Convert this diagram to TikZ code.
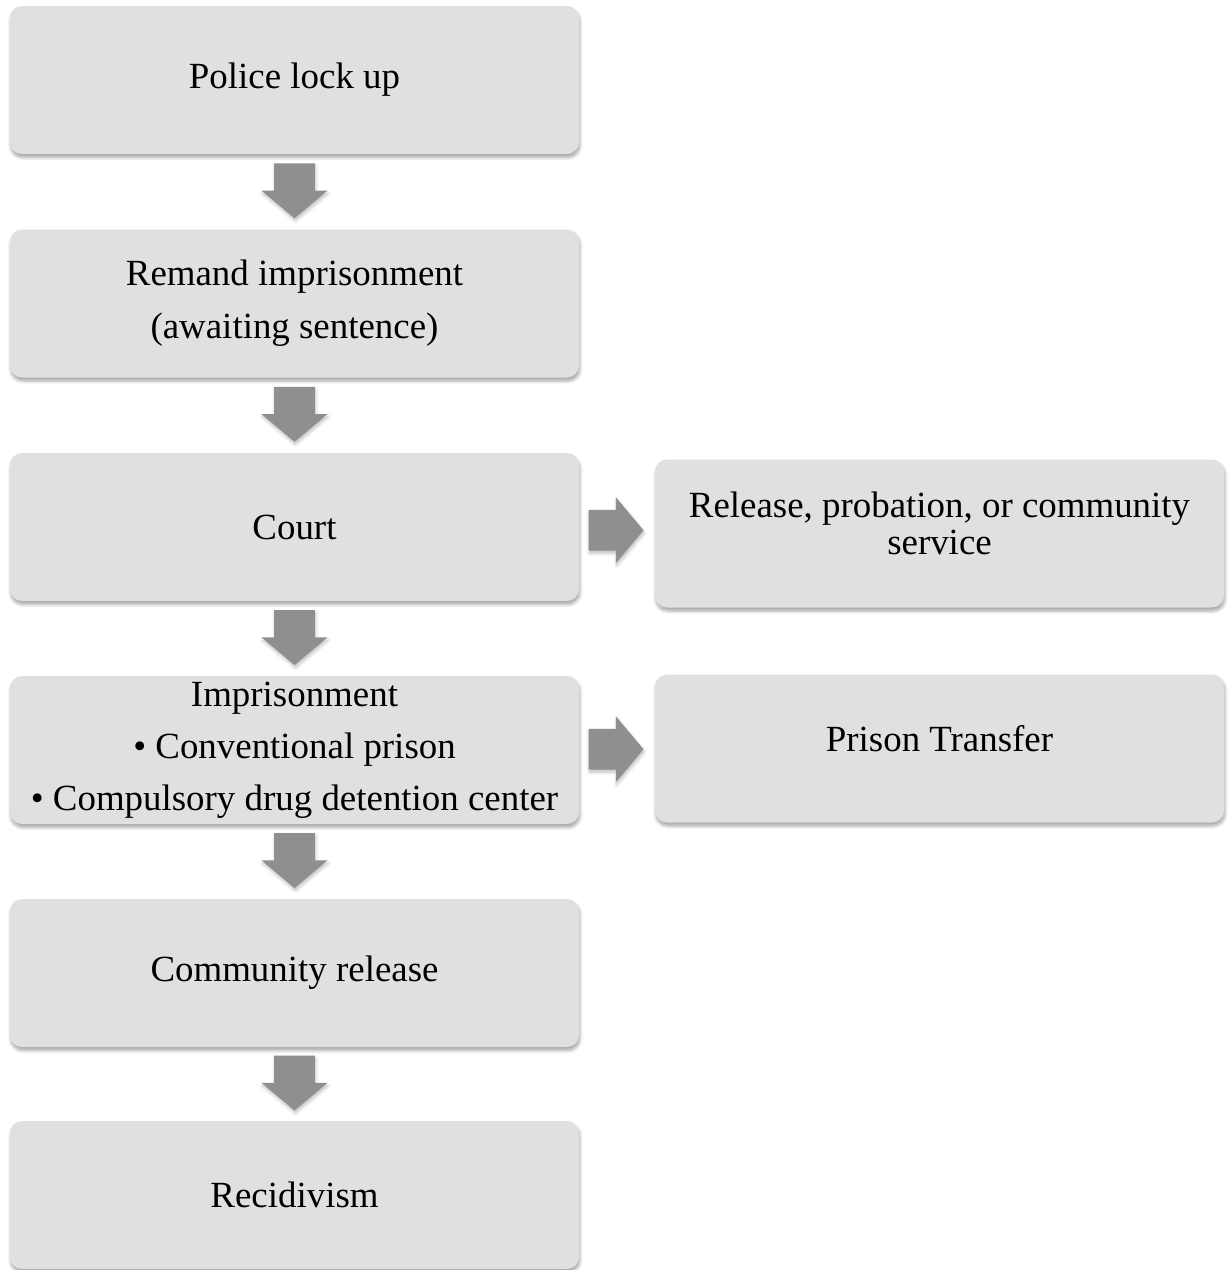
\documentclass[tikz,border=0pt]{standalone}
\usepackage{fontspec}
\setmainfont{Liberation Serif}
\usetikzlibrary{shapes.arrows,shadows.blur,calc}
\definecolor{boxgray}{HTML}{E0E0E0}
\definecolor{arrowgray}{HTML}{8F8F8F}

\begin{document}
\begin{tikzpicture}[
  stage/.style={rectangle, rounded corners=0.24cm, fill=boxgray, minimum width=11.38cm, minimum height=2.96cm, align=center, font=\fontsize{21}{30}\selectfont, blur shadow={shadow xshift=0.5pt, shadow yshift=-2pt, shadow blur steps=6, shadow opacity=35}},
  flowarrow/.style={single arrow, fill=arrowgray, inner xsep=0pt, inner ysep=0.4cm, minimum height=1.1cm, single arrow head extend=0.25cm, single arrow tip angle=100, blur shadow={shadow xshift=0.5pt, shadow yshift=-1.5pt, shadow blur steps=4, shadow opacity=25}}
]
  \useasboundingbox (0,0) rectangle (24.62,-25.4);
  % main chain
  \node[stage] (lockup) at (5.89,-1.6) {Police lock up};
  \node[stage] (remand) at (5.89,-6.07) {Remand imprisonment\\(awaiting sentence)};
  \node[stage] (court) at (5.89,-10.54) {Court};
  \node[stage, font=\fontsize{21}{29.5}\selectfont] (prison) at (5.89,-15.0) {Imprisonment\\\textbullet\ Conventional prison\\\textbullet\ Compulsory drug detention center};
  \node[stage] (community) at (5.89,-19.46) {Community release};
  \node[stage] (recid) at (5.89,-23.9) {Recidivism};
  % side outcomes
  \node[stage, font=\fontsize{21}{21}\selectfont] (release) at (18.79,-10.67) {Release, probation, or community\\service\\[-9.6pt]\mbox{}};
  \node[stage] (transfer) at (18.79,-14.97) {Prison Transfer\\[-18.6pt]\mbox{}};
  \foreach \a/\b in {lockup/remand, remand/court, court/prison, prison/community, community/recid}
    \node[flowarrow, rotate=-90] (arr-\a) at ($(\a.south)!0.5!(\b.north)+(0,0.19)$) {};
  \node[flowarrow] (arr-release) at ($(court.east)!0.5!(release.west)+(-0.19,0)$) {};
  \node[flowarrow] (arr-transfer) at ($(prison.east)!0.5!(transfer.west)+(-0.19,0)$) {};
\end{tikzpicture}
\end{document}
